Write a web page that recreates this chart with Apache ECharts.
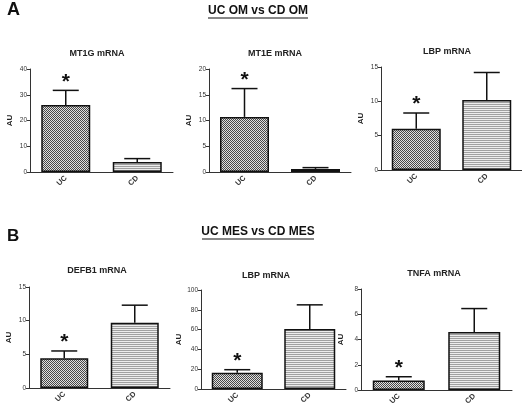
<!DOCTYPE html>
<html>
<head>
<meta charset="utf-8">
<script src="https://cdn.jsdelivr.net/npm/echarts@6/dist/echarts.min.js"></script>
<style>
  html, body { margin: 0; padding: 0; background: #fff; }
  #chart { width: 522px; height: 411px; }
</style>
</head>
<body>
<div id="chart"></div>
<script>
// data
const categories = ['UC', 'CD']
const panelTitles = ['MT1G mRNA', 'MT1E mRNA', 'LBP mRNA', 'DEFB1 mRNA', 'LBP mRNA', 'TNFA mRNA']
const means = [[26, 3.9], [10.7, 0.6], [6, 10.2], [4.4, 9.7], [16.5, 60.5], [0.75, 4.6]]
const upper = [[31.7, 5.2], [16.2, 0.85], [8.3, 14.2], [5.5, 12.3], [19.5, 85], [1.05, 6.45]]
const starred = [[1, 0], [1, 0], [1, 0], [1, 0], [1, 0], [1, 0]]
const yMax = [40, 20, 15, 15, 100, 8]
const yStep = [10, 5, 5, 5, 20, 2]

// layout of each small panel
const grids = [
  { left: 30, top: 69, width: 143, height: 103 },
  { left: 209, top: 69, width: 142, height: 103 },
  { left: 381, top: 67, width: 141, height: 103 },
  { left: 29, top: 287, width: 141, height: 101 },
  { left: 201, top: 290, width: 145, height: 99 },
  { left: 361, top: 289, width: 151, height: 101 }
]
const titlePos = [[97, 49], [275, 49], [447, 47], [97, 266], [266, 271], [434, 269]]
const barW = [49, 49, 49, 48, 51, 52]

const font = 'Liberation Sans, Arial, sans-serif'

function makePattern(kind) {
  const c = document.createElement('canvas')
  const ctx = c.getContext('2d')
  if (kind === 'check') {
    c.width = 2; c.height = 2
    ctx.fillStyle = '#e0e0e0'
    ctx.fillRect(0, 0, 2, 2)
    ctx.fillStyle = '#484848'
    ctx.fillRect(0, 0, 1, 1)
    ctx.fillRect(1, 1, 1, 1)
  } else {
    c.width = 4; c.height = 2
    ctx.fillStyle = '#ececec'
    ctx.fillRect(0, 0, 4, 2)
    ctx.fillStyle = '#a0a0a0'
    ctx.fillRect(0, 0, 4, 1)
  }
  return { image: c, repeat: 'repeat' }
}
const checkFill = makePattern('check')
const stripeFill = makePattern('stripe')

const chart = echarts.init(document.getElementById('chart'), null, { renderer: 'canvas' })

const grid = []
const xAxis = []
const yAxis = []
const series = []
const title = []

for (let i = 0; i < 6; i++) {
  grid.push(grids[i])
  title.push({
    text: panelTitles[i],
    left: titlePos[i][0],
    top: titlePos[i][1],
    textAlign: 'center',
    padding: 0,
    textStyle: { fontFamily: font, fontSize: 9, fontWeight: 'bold', color: '#222' }
  })
  xAxis.push({
    type: 'category',
    gridIndex: i,
    data: categories,
    axisLine: { lineStyle: { color: '#333', width: 1 } },
    axisTick: { alignWithLabel: true, length: 3, lineStyle: { color: '#333' } },
    axisLabel: {
      rotate: 45,
      margin: 5,
      fontFamily: font,
      fontSize: 7.5,
      fontWeight: 'bold',
      color: '#333'
    }
  })
  yAxis.push({
    type: 'value',
    gridIndex: i,
    min: 0,
    max: yMax[i],
    interval: yStep[i],
    name: 'AU',
    nameLocation: 'middle',
    nameGap: 16,
    nameRotate: 90,
    nameTextStyle: { fontFamily: font, fontSize: 8, fontWeight: 'bold', color: '#222' },
    axisLine: { show: true, lineStyle: { color: '#333', width: 1 } },
    axisTick: { show: true, length: 3, lineStyle: { color: '#333' } },
    axisLabel: { margin: 3, fontFamily: font, fontSize: 6.5, color: '#333' },
    splitLine: { show: false }
  })
  series.push({
    type: 'bar',
    xAxisIndex: i,
    yAxisIndex: i,
    barWidth: barW[i],
    data: means[i].map((v, j) => ({
      value: v,
      itemStyle: {
        color: j === 0 ? checkFill : stripeFill,
        borderColor: '#111',
        borderWidth: 1.5
      }
    }))
  })
  series.push({
    type: 'custom',
    xAxisIndex: i,
    yAxisIndex: i,
    z: 5,
    data: means[i].map((v, j) => [j, v, upper[i][j], starred[i][j]]),
    renderItem: function (params, api) {
      const base = api.coord([api.value(0), api.value(1)])
      const top = api.coord([api.value(0), api.value(2)])
      const half = 13
      const children = [
        { type: 'line', shape: { x1: base[0], y1: base[1], x2: top[0], y2: top[1] }, style: { stroke: '#111', lineWidth: 1.5 } },
        { type: 'line', shape: { x1: top[0] - half, y1: top[1], x2: top[0] + half, y2: top[1] }, style: { stroke: '#111', lineWidth: 1.5 } }
      ]
      if (api.value(3)) {
        children.push({
          type: 'text',
          style: {
            text: '*',
            x: top[0],
            y: top[1] + 2,
            align: 'center',
            verticalAlign: 'bottom',
            font: 'bold 21px ' + font,
            fill: '#111'
          }
        })
      }
      return { type: 'group', children: children }
    }
  })
}

chart.setOption({
  backgroundColor: '#fff',
  animation: false,
  title: title,
  grid: grid,
  xAxis: xAxis,
  yAxis: yAxis,
  series: series,
  graphic: [
    { type: 'text', left: 7, top: 1, style: { text: 'A', font: 'bold 18px ' + font, fill: '#111' } },
    { type: 'text', left: 7, top: 228, style: { text: 'B', font: 'bold 17px ' + font, fill: '#111' } },
    { type: 'text', x: 258, y: 5, style: { text: 'UC OM vs CD OM', align: 'center', font: 'bold 12px ' + font, fill: '#111' } },
    { type: 'line', shape: { x1: 208, y1: 18, x2: 308, y2: 18 }, style: { stroke: '#111', lineWidth: 1 } },
    { type: 'text', x: 258, y: 226, style: { text: 'UC MES vs CD MES', align: 'center', font: 'bold 12px ' + font, fill: '#111' } },
    { type: 'line', shape: { x1: 202, y1: 239, x2: 314, y2: 239 }, style: { stroke: '#111', lineWidth: 1 } }
  ]
})
</script>
</body>
</html>
